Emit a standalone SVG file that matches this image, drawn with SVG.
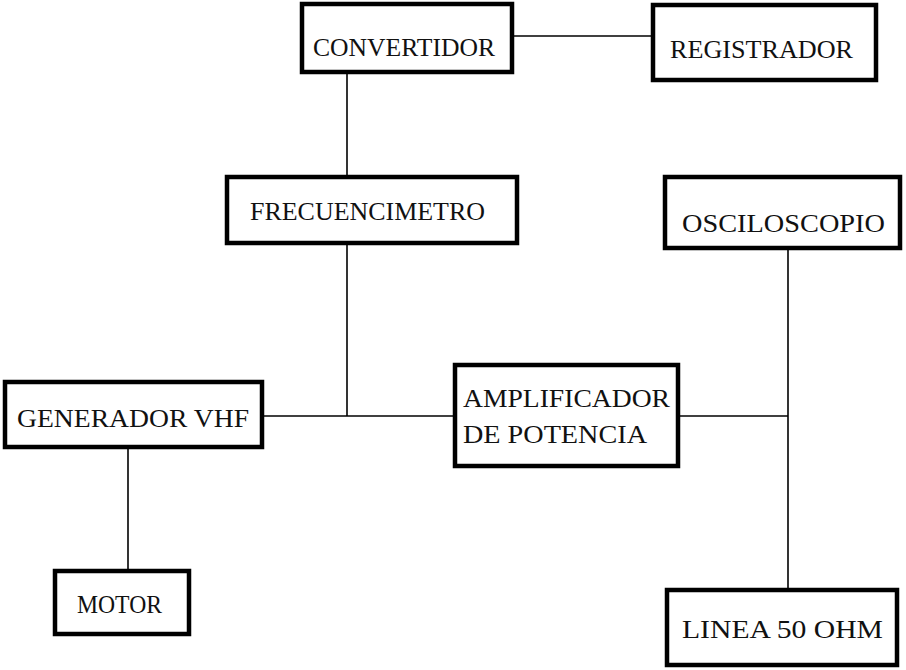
<svg xmlns="http://www.w3.org/2000/svg" width="906" height="670" viewBox="0 0 906 670">
<style>
.box{fill:#fff;stroke:#000;stroke-width:4.5}
.ln{fill:none;stroke:#000;stroke-width:1.6}
text{font-family:"Liberation Serif","Times New Roman",serif;font-size:26px;fill:#111}
</style>
<rect width="906" height="670" fill="#fff"/>
<g id="connectors">
<line class="ln" x1="512" y1="36" x2="653" y2="36"/>
<line class="ln" x1="347" y1="72" x2="347" y2="177"/>
<line class="ln" x1="347" y1="243" x2="347" y2="416"/>
<line class="ln" x1="262" y1="416" x2="455" y2="416"/>
<line class="ln" x1="678" y1="416" x2="788" y2="416"/>
<line class="ln" x1="788" y1="248" x2="788" y2="590"/>
<line class="ln" x1="128" y1="447" x2="128" y2="571"/>
</g>
<g id="convertidor"><rect class="box" x="302" y="4" width="210" height="68"/><text x="313" y="56" textLength="182" lengthAdjust="spacingAndGlyphs">CONVERTIDOR</text></g>
<g id="registrador"><rect class="box" x="653" y="5" width="223" height="75"/><text x="670" y="58" textLength="183" lengthAdjust="spacingAndGlyphs">REGISTRADOR</text></g>
<g id="frecuencimetro"><rect class="box" x="227" y="177" width="290" height="66"/><text x="250" y="220" textLength="235" lengthAdjust="spacingAndGlyphs">FRECUENCIMETRO</text></g>
<g id="osciloscopio"><rect class="box" x="665" y="177" width="235" height="71"/><text x="682" y="232" textLength="203" lengthAdjust="spacingAndGlyphs">OSCILOSCOPIO</text></g>
<g id="generador"><rect class="box" x="5" y="382" width="257" height="65"/><text x="17" y="427" textLength="232" lengthAdjust="spacingAndGlyphs">GENERADOR VHF</text></g>
<g id="amplificador"><rect class="box" x="455" y="365" width="223" height="101"/><text x="463" y="407" textLength="207" lengthAdjust="spacingAndGlyphs">AMPLIFICADOR</text><text x="463" y="443" textLength="184" lengthAdjust="spacingAndGlyphs">DE POTENCIA</text></g>
<g id="motor"><rect class="box" x="55" y="571" width="134" height="63"/><text x="77" y="613" textLength="85" lengthAdjust="spacingAndGlyphs">MOTOR</text></g>
<g id="linea"><rect class="box" x="667" y="590" width="230" height="75"/><text x="682" y="638" textLength="201" lengthAdjust="spacingAndGlyphs">LINEA 50 OHM</text></g>
</svg>
